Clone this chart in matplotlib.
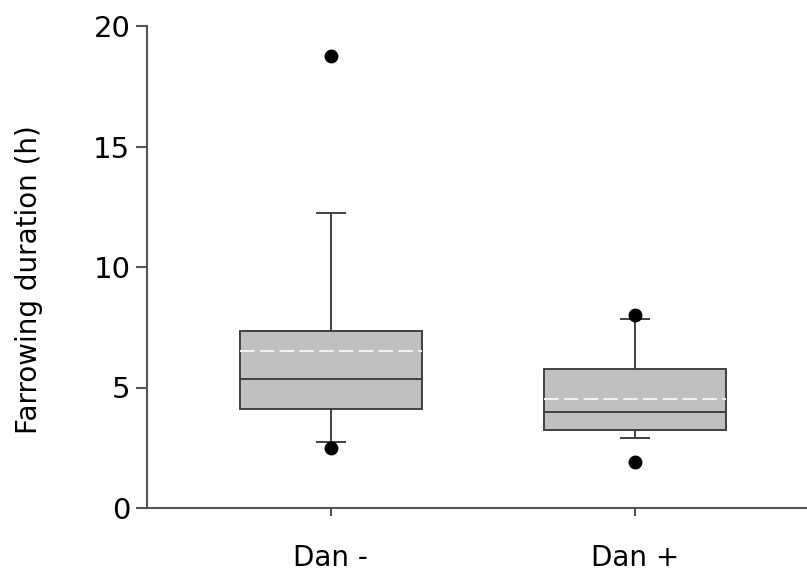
import matplotlib
matplotlib.use("Agg")
import matplotlib.pyplot as plt

# Group labels
groups = ["Dan -", "Dan +"]

# Box statistics per group (hours)
q1 = [4.11, 3.24]
medians = [5.37, 3.97]
q3 = [7.36, 5.76]
means = [6.51, 4.52]
whisker_low = [2.75, 2.92]
whisker_high = [12.25, 7.83]
outliers = [[18.76, 2.48], [8.01, 1.92]]

y_ticks = [0, 5, 10, 15, 20]

stats = []
for i, name in enumerate(groups):
    stats.append(dict(label=name, q1=q1[i], med=medians[i], q3=q3[i],
                      mean=means[i], whislo=whisker_low[i],
                      whishi=whisker_high[i], fliers=outliers[i]))

fig = plt.figure(figsize=(8.07, 5.72), dpi=100)
ax = fig.add_axes([147 / 807, 64 / 572, 660 / 807, 482 / 572])

edge = "#404040"
ax.bxp(stats, positions=[1, 2], widths=0.6, capwidths=0.092,
       patch_artist=True, showmeans=True, meanline=True,
       boxprops=dict(facecolor="#c0c0c0", edgecolor=edge, linewidth=1.4),
       medianprops=dict(color=edge, linewidth=1.4),
       whiskerprops=dict(color=edge, linewidth=1.4),
       capprops=dict(color=edge, linewidth=1.4),
       meanprops=dict(color="#f2f2f2", linewidth=1.5, linestyle=(0, (7, 2.5))),
       flierprops=dict(marker="o", markerfacecolor="black",
                       markeredgecolor="black", markersize=9))

ax.set_xlim(0.395, 2.566)
ax.set_ylim(0, 20)
ax.set_yticks(y_ticks)
ax.set_yticklabels([str(t) for t in y_ticks])
ax.set_xticks([1, 2])
ax.set_xticklabels(groups)

for side in ("top", "right"):
    ax.spines[side].set_visible(False)
for side in ("left", "bottom"):
    ax.spines[side].set_color("#555555")
    ax.spines[side].set_linewidth(1.5)

ax.tick_params(axis="y", length=8, width=1.5, color="#555555",
               labelsize=21, pad=4)
ax.tick_params(axis="x", length=6, width=1.5, color="#555555",
               labelsize=20, pad=20)
ax.set_ylabel("Farrowing duration (h)", fontsize=20)
ax.yaxis.set_label_coords(-0.157, 0.473)

fig.savefig("out.png", dpi=100)
